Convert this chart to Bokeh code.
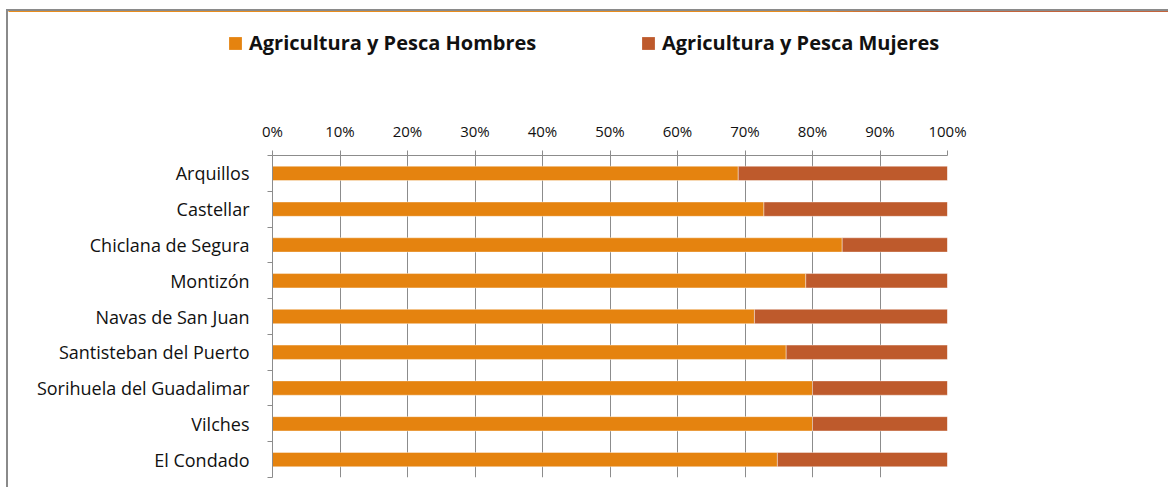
from bokeh.plotting import figure
from bokeh.layouts import column, row
from bokeh.models import (ColumnDataSource, FixedTicker, NumeralTickFormatter, Range1d,
                          Legend, LegendItem)
from bokeh.embed import file_html
from bokeh.resources import INLINE

categories = ["Arquillos", "Castellar", "Chiclana de Segura", "Montizón", "Navas de San Juan",
              "Santisteban del Puerto", "Sorihuela del Guadalimar", "Vilches", "El Condado"]
hombres = [69.0, 72.8, 84.4, 79.0, 71.4, 76.1, 80.0, 80.0, 74.8]
mujeres = [31.0, 27.2, 15.6, 21.0, 28.6, 23.9, 20.0, 20.0, 25.2]
series_names = ["Agricultura y Pesca Hombres", "Agricultura y Pesca Mujeres"]
x_ticks = [0.0, 0.1, 0.2, 0.3, 0.4, 0.5, 0.6, 0.7, 0.8, 0.9, 1.0]

C_H = "#E5830F"
C_M = "#BE5A2C"
GRID = "#8C8C8C"
FONT = "Open Sans"
TXT = "#111111"

n = len(categories)
ypos = [n - i - 0.5 for i in range(n)]
src = ColumnDataSource(dict(
    y=ypos,
    h=[v / 100 for v in hombres],
    m=[v / 100 for v in mujeres],
))

W = 1160
LEG_H = 60
MAIN_H = 416

# ---- legend strip (bars kept out of its visible range; only the legend shows) ----
lf = figure(width=W, height=LEG_H, output_backend="svg", toolbar_location=None,
            x_range=Range1d(0, 1), y_range=Range1d(-20, -19),
            min_border=0, min_border_left=0, min_border_right=0,
            min_border_top=0, min_border_bottom=0)
lf.axis.visible = False
lf.grid.visible = False
lf.outline_line_color = None
lrs = lf.hbar_stack(["h", "m"], y="y", height=0.4, color=[C_H, C_M], source=src,
                    line_color=None)
legend = Legend(items=[LegendItem(label=series_names[0], renderers=[lrs[0]]),
                       LegendItem(label=series_names[1], renderers=[lrs[1]])],
                orientation="horizontal", location=(219, 15),
                padding=0, margin=0, spacing=0, glyph_width=16, glyph_height=16,
                label_standoff=6, label_width=391,
                label_text_font=FONT, label_text_font_style="bold",
                label_text_font_size="20px", label_text_color=TXT,
                border_line_color=None, background_fill_alpha=0)
lf.add_layout(legend, "center")

# ---- main chart ----
p = figure(width=W, height=MAIN_H, output_backend="svg", toolbar_location=None,
           x_range=Range1d(0, 1), y_range=Range1d(0, n),
           x_axis_location="above", min_border_left=264, min_border_right=221,
           min_border_top=84, min_border_bottom=10)
p.outline_line_color = None

rs = p.hbar_stack(["h", "m"], y="y", height=0.4, fill_color=[C_H, C_M], source=src,
                  line_color="white", line_alpha=0.4, line_width=1)

xa = p.xaxis[0]
xa.ticker = FixedTicker(ticks=x_ticks)
xa.formatter = NumeralTickFormatter(format="0%")
xa.axis_line_color = GRID
xa.major_tick_line_color = GRID
xa.major_tick_in = 0
xa.major_tick_out = 5
xa.minor_tick_line_color = None
xa.major_label_standoff = 10
xa.major_label_text_font = FONT
xa.major_label_text_font_size = "15px"
xa.major_label_text_color = TXT

ya = p.yaxis[0]
ya.ticker = FixedTicker(ticks=ypos, minor_ticks=list(range(n + 1)))
ya.major_label_overrides = {y: c for y, c in zip(ypos, categories)}
ya.axis_line_color = GRID
ya.major_tick_line_color = None
ya.major_tick_in = 0
ya.major_tick_out = 0
ya.minor_tick_line_color = GRID
ya.minor_tick_in = 0
ya.minor_tick_out = 5
ya.major_label_standoff = 18
ya.major_label_text_font = FONT
ya.major_label_text_font_size = "18px"
ya.major_label_text_color = TXT

p.xgrid.grid_line_color = GRID
p.xgrid.grid_line_width = 1
p.ygrid.grid_line_color = None

layout = column(row(lf), p, spacing=0)
layout.margin = (9, 0, 0, 6)
layout.styles = {"border-left": "2px solid #8A8A8A", "border-top": "2px solid #8A8A8A"}

open("out.html", "w").write(file_html(layout, INLINE))
